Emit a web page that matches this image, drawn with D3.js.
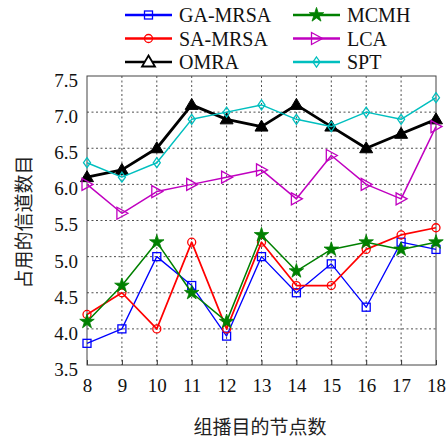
<!DOCTYPE html>
<html>
<head>
<meta charset="utf-8">
<script src="https://cdn.jsdelivr.net/npm/d3@7"></script>
<style>
  html, body { margin: 0; padding: 0; background: #fff; }
  svg { display: block; }
</style>
</head>
<body>
<svg id="chart" width="448" height="441"></svg>
<script>
// Node counts on the x axis
const nodeCounts = [8, 9, 10, 11, 12, 13, 14, 15, 16, 17, 18];
const yTicks = [3.5, 4.0, 4.5, 5.0, 5.5, 6.0, 6.5, 7.0, 7.5];

// Channels used by each algorithm
const gaMrsa = [3.8, 4.0, 5.0, 4.6, 3.9, 5.0, 4.5, 4.9, 4.3, 5.2, 5.1];
const saMrsa = [4.2, 4.5, 4.0, 5.2, 4.0, 5.2, 4.6, 4.6, 5.1, 5.3, 5.4];
const omra   = [6.1, 6.2, 6.5, 7.1, 6.9, 6.8, 7.1, 6.8, 6.5, 6.7, 6.9];
const mcmh   = [4.1, 4.6, 5.2, 4.5, 4.1, 5.3, 4.8, 5.1, 5.2, 5.1, 5.2];
const lca    = [6.0, 5.6, 5.9, 6.0, 6.1, 6.2, 5.8, 6.4, 6.0, 5.8, 6.8];
const spt    = [6.3, 6.1, 6.3, 6.9, 7.0, 7.1, 6.9, 6.8, 7.0, 6.9, 7.2];

const seriesNames = ["GA-MRSA", "SA-MRSA", "OMRA", "MCMH", "LCA", "SPT"];
const seriesValues = [gaMrsa, saMrsa, omra, mcmh, lca, spt];

const styles = {
  "GA-MRSA": { color: "#0000ff", width: 1.3, marker: "square" },
  "SA-MRSA": { color: "#ff0000", width: 1.7, marker: "circle" },
  "OMRA":    { color: "#000000", width: 2.8, marker: "triangle" },
  "MCMH":    { color: "#008000", width: 1.5, marker: "star" },
  "LCA":     { color: "#c000c0", width: 1.5, marker: "rtriangle" },
  "SPT":     { color: "#00bfbf", width: 1.5, marker: "diamond" }
};

const svg = d3.select("#chart");
const serif = "'Liberation Serif', 'Times New Roman', serif";
const cjk = "'Noto Sans CJK SC', sans-serif";

const plot = { left: 87, right: 436, top: 76, bottom: 365 };

const x = d3.scaleLinear().domain([8, 18]).range([plot.left, plot.right]);
const y = d3.scaleLinear().domain([3.5, 7.5]).range([plot.bottom, plot.top]);

// Dotted grid
const grid = svg.append("g");
grid.selectAll("line.vx").data(nodeCounts.slice(1, -1)).join("line")
  .attr("x1", d => x(d)).attr("x2", d => x(d))
  .attr("y1", plot.top).attr("y2", plot.bottom)
  .attr("stroke", "#222").attr("stroke-width", 0.8).attr("stroke-dasharray", "2,2.5");
grid.selectAll("line.hy").data(yTicks.slice(1, -1)).join("line")
  .attr("x1", plot.left).attr("x2", plot.right)
  .attr("y1", d => y(d)).attr("y2", d => y(d))
  .attr("stroke", "#222").attr("stroke-width", 0.8).attr("stroke-dasharray", "2,2.5");

// Axes with inward ticks
const xAxis = d3.axisBottom(x).tickValues(nodeCounts).tickSize(-5).tickFormat(d3.format("d"));
const gx = svg.append("g").attr("transform", `translate(0,${plot.bottom})`).call(xAxis);
gx.select(".domain").remove();
gx.selectAll(".tick line").attr("stroke", "#333");
gx.selectAll(".tick text")
  .attr("font-family", serif).attr("font-size", 19).attr("fill", "#111")
  .attr("y", 14).attr("dy", "0.71em");

const yAxis = d3.axisLeft(y).tickValues(yTicks).tickSize(0).tickFormat(d3.format(".1f"));
const gy = svg.append("g").attr("transform", `translate(${plot.left},0)`).call(yAxis);
gy.select(".domain").remove();
gy.selectAll(".tick text")
  .attr("font-family", serif).attr("font-size", 19).attr("fill", "#111")
  .attr("x", -9).attr("dy", "0.55em");

// Frame
svg.append("rect")
  .attr("x", plot.left).attr("y", plot.top)
  .attr("width", plot.right - plot.left).attr("height", plot.bottom - plot.top)
  .attr("fill", "none").attr("stroke", "#444").attr("stroke-width", 1);

// Marker shapes
function drawMarker(g, type, color, cx, cy, hollow) {
  switch (type) {
    case "square":
      g.append("rect").attr("x", cx - 4).attr("y", cy - 4).attr("width", 8).attr("height", 8)
        .attr("fill", "none").attr("stroke", color).attr("stroke-width", 1.3);
      break;
    case "circle":
      g.append("circle").attr("cx", cx).attr("cy", cy).attr("r", 4)
        .attr("fill", "none").attr("stroke", color).attr("stroke-width", 1.3);
      break;
    case "triangle":
      g.append("path").attr("d", `M${cx},${cy - 6.5}L${cx + 6.5},${cy + 4.5}L${cx - 6.5},${cy + 4.5}Z`)
        .attr("fill", hollow ? "#fff" : color).attr("stroke", color).attr("stroke-width", hollow ? 1.8 : 1);
      break;
    case "star":
      g.append("path")
        .attr("d", d3.symbol().type(d3.symbolStar).size(65)())
        .attr("transform", `translate(${cx},${cy})`)
        .attr("fill", color).attr("stroke", color).attr("stroke-width", 0.8);
      break;
    case "rtriangle":
      g.append("path").attr("d", `M${cx - 5},${cy - 6}L${cx + 6},${cy}L${cx - 5},${cy + 6}Z`)
        .attr("fill", "none").attr("stroke", color).attr("stroke-width", 1.3);
      break;
    case "diamond":
      g.append("path").attr("d", `M${cx},${cy - 5}L${cx + 3.5},${cy}L${cx},${cy + 5}L${cx - 3.5},${cy}Z`)
        .attr("fill", "none").attr("stroke", color).attr("stroke-width", 1.3);
      break;
  }
}

// Series lines and markers
const line = d3.line().x((d, i) => x(nodeCounts[i])).y(d => y(d));
seriesNames.forEach((name, k) => {
  const st = styles[name];
  const g = svg.append("g");
  g.append("path").datum(seriesValues[k]).attr("d", line)
    .attr("fill", "none").attr("stroke", st.color).attr("stroke-width", st.width)
    .attr("stroke-linejoin", "round");
  seriesValues[k].forEach((v, i) => drawMarker(g, st.marker, st.color, x(nodeCounts[i]), y(v), false));
});

// Legend in two columns
const legend = svg.append("g");
seriesNames.forEach((name, k) => {
  const st = styles[name];
  const col = Math.floor(k / 3), row = k % 3;
  const lx = col === 0 ? 125 : 293;
  const ly = 15 + row * 23.5;
  legend.append("line").attr("x1", lx).attr("x2", lx + 47).attr("y1", ly).attr("y2", ly)
    .attr("stroke", st.color).attr("stroke-width", 2.5);
  drawMarker(legend, st.marker, st.color, lx + 23.5, ly, st.marker === "triangle");
  legend.append("text").attr("x", lx + 54).attr("y", ly).attr("dy", "0.35em")
    .attr("font-family", serif).attr("font-size", 20).attr("fill", "#111").text(name);
});

// Axis titles
svg.append("text")
  .attr("x", 260).attr("y", 434).attr("text-anchor", "middle")
  .attr("font-family", cjk).attr("font-size", 19).attr("fill", "#222")
  .text("组播目的节点数");
svg.append("text")
  .attr("transform", "translate(31,222) rotate(-90)").attr("text-anchor", "middle")
  .attr("font-family", cjk).attr("font-size", 19).attr("fill", "#222")
  .text("占用的信道数目");
</script>
</body>
</html>
